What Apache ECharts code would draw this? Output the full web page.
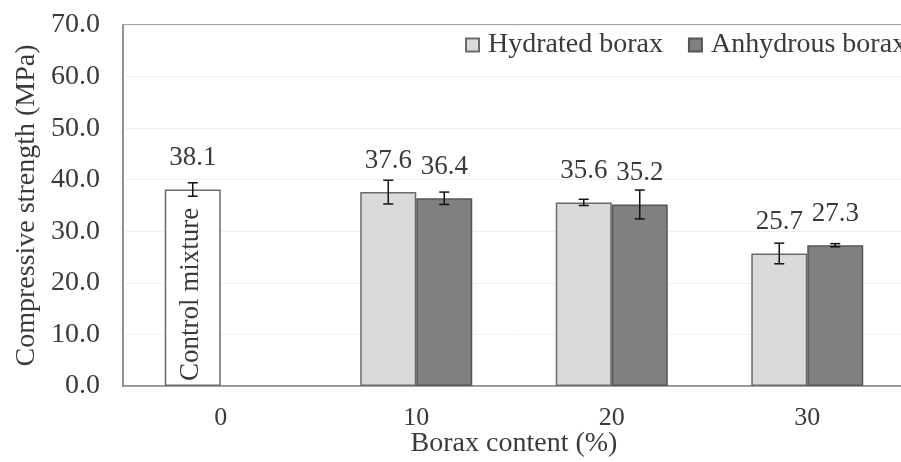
<!DOCTYPE html>
<html>
<head>
<meta charset="utf-8">
<script src="https://cdn.jsdelivr.net/npm/echarts@6/dist/echarts.min.js"></script>
<style>html,body{margin:0;padding:0;background:#fff}#c{width:901px;height:462px}</style>
</head>
<body>
<div id="c"></div>
<script>
const categories = ['0', '10', '20', '30'];
const hydrated = [38.1, 37.6, 35.6, 25.7];      // first value: control mixture
const anhydrous = [null, 36.4, 35.2, 27.3];
const hydratedErr = [1.3, 2.3, 0.6, 2.0];
const anhydrousErr = [null, 1.2, 2.8, 0.3];
const yTicks = [0, 10, 20, 30, 40, 50, 60, 70];
const controlText = 'Control mixture';

const FONT = 'Liberation Serif';
const TXT = '#3a3a3a';
const BAR_W = 56;
const FS = 28;

const chart = echarts.init(document.getElementById('c'), null, {renderer: 'canvas'});

const errData = [];
hydrated.forEach((v, i) => { if (v != null) errData.push([i, v, hydratedErr[i], 0]); });
anhydrous.forEach((v, i) => { if (v != null) errData.push([i, v, anhydrousErr[i], 1]); });

const hydData = hydrated.map((v, i) => i === 0
  ? {value: v, itemStyle: {color: '#ffffff'}}
  : v);

chart.setOption({
  animation: false,
  backgroundColor: '#ffffff',
  textStyle: {fontFamily: FONT, color: TXT},
  grid: {left: 123, top: 25, width: 782, height: 361, show: true, borderColor: '#8a8a8a', borderWidth: 1.5,
    containLabel: false, outerBoundsMode: 'none'},
  legend: {
    left: 465, top: 31, width: 700, padding: 0, itemWidth: 13, itemHeight: 13, itemGap: 25,
    data: ['Hydrated borax', 'Anhydrous borax'],
    icon: 'rect',
    textStyle: {fontFamily: FONT, fontSize: FS, color: TXT, padding: [0, 0, 0, 4]}
  },
  xAxis: {
    type: 'category', data: categories,
    name: 'Borax content (%)', nameLocation: 'middle', nameGap: 44, nameMoveOverlap: false,
    nameTextStyle: {fontFamily: FONT, fontSize: FS, color: TXT, verticalAlign: 'top'},
    axisLine: {lineStyle: {color: '#8a8a8a', width: 1.5}},
    axisTick: {show: false},
    axisLabel: {fontFamily: FONT, fontSize: 26, color: TXT, margin: 19}
  },
  yAxis: {
    type: 'value', min: yTicks[0], max: yTicks[yTicks.length - 1], interval: 10,
    name: 'Compressive strength (MPa)', nameLocation: 'middle', nameGap: 82, nameMoveOverlap: false,
    nameTextStyle: {fontFamily: FONT, fontSize: FS, color: TXT},
    axisLine: {show: true, lineStyle: {color: '#8a8a8a', width: 1.5}},
    axisTick: {show: false},
    axisLabel: {fontFamily: FONT, fontSize: FS, color: TXT, margin: 23, formatter: v => v.toFixed(1)},
    splitLine: {show: true, lineStyle: {color: '#f0f0f0', width: 1}}
  },
  series: [
    {
      name: 'Hydrated borax', type: 'bar', data: hydData, barWidth: BAR_W, barGap: '0%',
      itemStyle: {color: '#dadada', borderColor: '#6a6a6a', borderWidth: 1.5},
      label: {show: true, position: 'top', distance: 18, fontFamily: FONT, fontSize: 27, color: TXT,
        formatter: p => p.value.toFixed(1)}
    },
    {
      name: 'Anhydrous borax', type: 'bar', data: anhydrous.map(v => v == null ? '-' : v), barWidth: BAR_W,
      itemStyle: {color: '#808080', borderColor: '#555555', borderWidth: 1.5},
      label: {show: true, position: 'top', distance: 18, fontFamily: FONT, fontSize: 27, color: TXT,
        formatter: p => Number(p.value).toFixed(1)}
    },
    {
      name: 'err', type: 'custom', z: 10, data: errData,
      renderItem: (params, api) => {
        const i = api.value(0), v = api.value(1), e = api.value(2), slot = api.value(3);
        const c = api.coord([i, v]);
        const x = c[0] + (slot === 0 ? -BAR_W / 2 : BAR_W / 2);
        const yt = api.coord([i, v + e])[1];
        const yb = api.coord([i, v - e])[1];
        const st = {stroke: '#111', lineWidth: 1.5};
        const cap = 5;
        return {type: 'group', children: [
          {type: 'line', shape: {x1: x, y1: yt, x2: x, y2: yb}, style: st},
          {type: 'line', shape: {x1: x - cap, y1: yt, x2: x + cap, y2: yt}, style: st},
          {type: 'line', shape: {x1: x - cap, y1: yb, x2: x + cap, y2: yb}, style: st}
        ]};
      }
    },
    {
      name: 'ctrl', type: 'custom', z: 11, data: [[0, 0]],
      renderItem: (params, api) => {
        const c = api.coord([api.value(0), api.value(1)]);
        return {type: 'text', x: c[0] - BAR_W / 2 - 2, y: c[1] - 5, rotation: Math.PI / 2,
          style: {text: controlText, align: 'left', verticalAlign: 'middle',
            font: '27px "Liberation Serif"', fill: TXT}};
      }
    }
  ]
});
</script>
</body>
</html>
